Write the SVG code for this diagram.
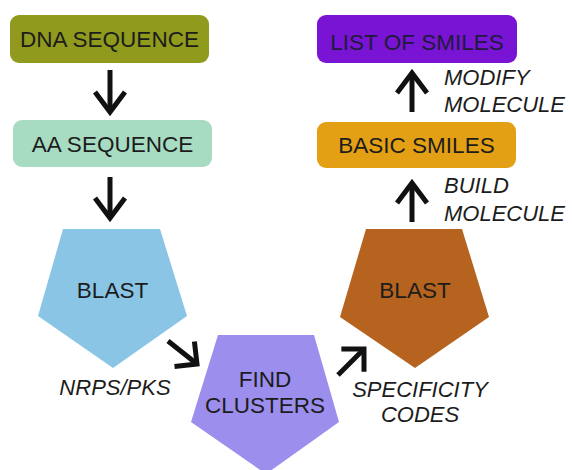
<svg xmlns="http://www.w3.org/2000/svg" width="572" height="470" viewBox="0 0 572 470">
<defs>
<style>
.t{font-family:"Liberation Sans",Arial,sans-serif;font-size:22.5px;fill:#1c1c1c;text-anchor:middle}
.l{font-family:"Liberation Sans",Arial,sans-serif;font-size:22px;font-style:italic;fill:#1c1c1c}
.c{fill:none;stroke:#111;stroke-width:5}
</style>
<marker id="hv" markerUnits="userSpaceOnUse" viewBox="-30 -20 40 40" markerWidth="40" markerHeight="40" refX="0" refY="0" orient="auto">
<path d="M-20,-15 L0,0 L-20,15" fill="none" stroke="#111" stroke-width="5"/>
</marker>
<marker id="hd" markerUnits="userSpaceOnUse" viewBox="-30 -20 40 40" markerWidth="40" markerHeight="40" refX="0" refY="0" orient="auto">
<path d="M-16,-16 L0,0 L-16,16" fill="none" stroke="#111" stroke-width="5"/>
</marker>
</defs>
<rect width="572" height="470" fill="#fff"/>
<g id="dna">
<rect x="10" y="15" width="199" height="48" rx="9" fill="#909a1c"/>
<text class="t" x="109.5" y="47">DNA SEQUENCE</text>
</g>
<g id="aa">
<rect x="13" y="120" width="199" height="47" rx="9" fill="#a8dcc2"/>
<text class="t" x="112.5" y="152">AA SEQUENCE</text>
</g>
<g id="blast1">
<polygon points="63,229 160,229 187,316 113,368 38,316" fill="#8bc5e6"/>
<text class="t" x="112.5" y="298">BLAST</text>
</g>
<g id="find">
<polygon points="218,335 314,335 339,422 266,474 191,422" fill="#9b8eec"/>
<text class="t" x="265" y="387">FIND</text>
<text class="t" x="265" y="413">CLUSTERS</text>
</g>
<g id="blast2">
<polygon points="366,229 462,229 489,317 415,368 340,317" fill="#b5631e"/>
<text class="t" x="415" y="298">BLAST</text>
</g>
<g id="basic">
<rect x="317" y="122" width="199" height="46" rx="9" fill="#e3a014"/>
<text class="t" x="416.5" y="153">BASIC SMILES</text>
</g>
<g id="list">
<rect x="317" y="15" width="200" height="48" rx="9" fill="#7a14d4"/>
<text class="t" x="417" y="50" style="fill:#1e1a3c">LIST OF SMILES</text>
</g>
<g id="connectors">
<path class="c" d="M110,70 L110,112" marker-end="url(#hv)"/>
<path class="c" d="M110,177 L110,218" marker-end="url(#hv)"/>
<path class="c" d="M168,341 L197,364" marker-end="url(#hd)"/>
<path class="c" d="M338,375 L364,349" marker-end="url(#hd)"/>
<path class="c" d="M412,222 L412,183" marker-end="url(#hv)"/>
<path class="c" d="M412,112 L412,73" marker-end="url(#hv)"/>
</g>
<g id="labels">
<text class="l" x="115" y="395" text-anchor="middle">NRPS/PKS</text>
<text class="l" x="420" y="397" text-anchor="middle">SPECIFICITY</text>
<text class="l" x="420" y="422" text-anchor="middle">CODES</text>
<text class="l" x="444" y="85">MODIFY</text>
<text class="l" x="444" y="112">MOLECULE</text>
<text class="l" x="444" y="193">BUILD</text>
<text class="l" x="444" y="221">MOLECULE</text>
</g>
</svg>
